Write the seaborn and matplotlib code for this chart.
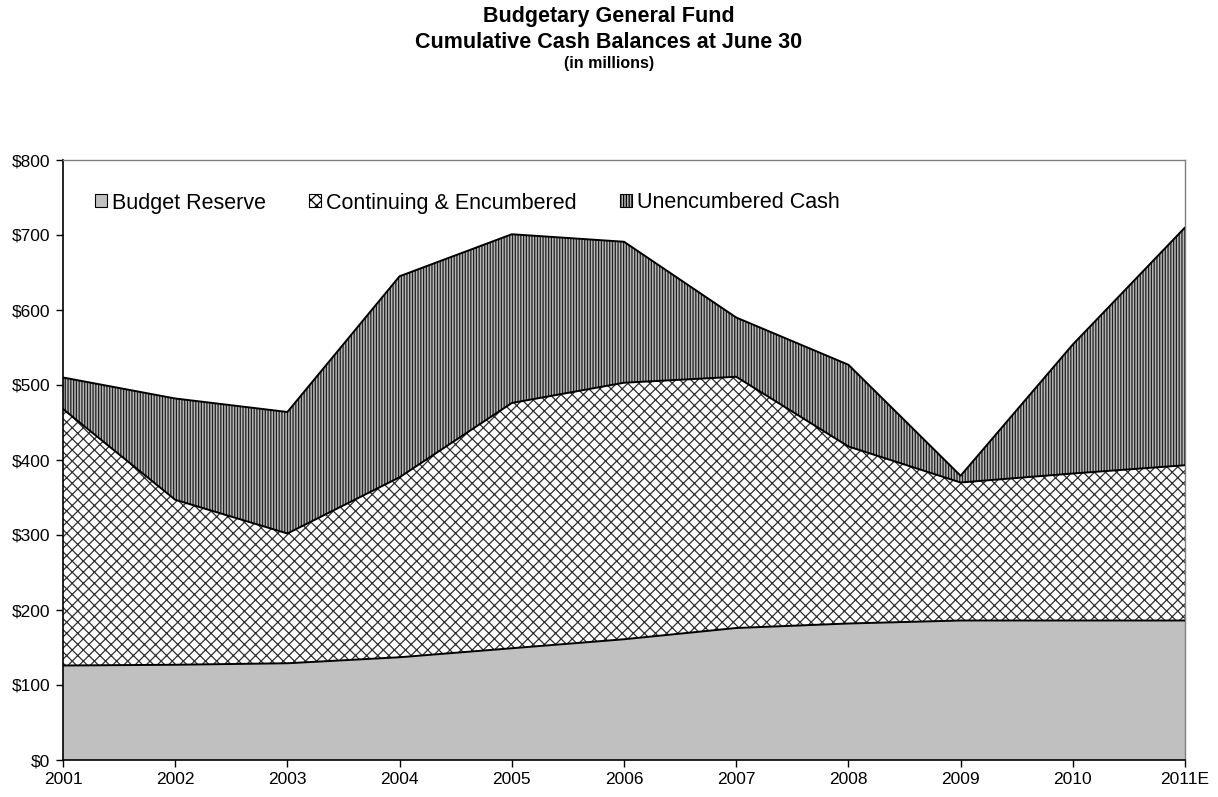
import matplotlib
matplotlib.use("Agg")
import matplotlib.pyplot as plt
import seaborn as sns
import pandas as pd
import numpy as np

years = ["2001", "2002", "2003", "2004", "2005", "2006", "2007", "2008", "2009", "2010", "2011E"]
budget_reserve = [126, 127, 129, 137, 149, 161, 176, 182, 186, 186, 186]
continuing_encumbered = [342, 220, 173, 240, 327, 342, 335, 236, 184, 196, 207]
unencumbered_cash = [42, 135, 162, 268, 225, 188, 79, 109, 9, 172, 317]
y_ticks = [0, 100, 200, 300, 400, 500, 600, 700, 800]

sns.set_style("white")
plt.rcParams['font.family'] = ['Liberation Sans', 'DejaVu Sans']
plt.rcParams['text.color'] = 'black'
plt.rcParams['xtick.color'] = 'black'
plt.rcParams['ytick.color'] = 'black'
plt.rcParams['hatch.linewidth'] = 0.9

df = pd.DataFrame({
    "year": years,
    "x": np.arange(len(years)),
    "reserve": budget_reserve,
    "continuing": continuing_encumbered,
    "unenc": unencumbered_cash,
})
df["lvl1"] = df["reserve"]
df["lvl2"] = df["lvl1"] + df["continuing"]
df["lvl3"] = df["lvl2"] + df["unenc"]

fig = plt.figure(figsize=(12.18, 7.97), dpi=100)
ax = fig.add_axes([63/1218, 37/797, 1122/1218, 600/797])

ax.fill_between(df["x"], 0, df["lvl1"], facecolor="#c0c0c0", edgecolor="none",
                label="Budget Reserve", zorder=1)
plt.rcParams['hatch.color'] = '#303030'
ax.fill_between(df["x"], df["lvl1"], df["lvl2"], facecolor="white", edgecolor="#303030",
                hatch="xxx", linewidth=0, label="Continuing & Encumbered", zorder=1)
ax.fill_between(df["x"], df["lvl2"], df["lvl3"], facecolor="#b8b8b8", edgecolor="#202020",
                hatch="||||||", linewidth=0, label="Unencumbered Cash", zorder=1)

for col in ["lvl1", "lvl2", "lvl3"]:
    sns.lineplot(data=df, x="x", y=col, ax=ax, color="black", linewidth=1.4, zorder=3,
                 legend=False)

ax.set_xlim(0, len(years) - 1)
ax.set_ylim(0, 800)
ax.set_xticks(df["x"])
ax.set_xticklabels(years)
ax.set_yticks(y_ticks)
ax.set_yticklabels([f"${v}" for v in y_ticks])
ax.set_xlabel("")
ax.set_ylabel("")
ax.tick_params(axis="both", labelsize=12.5, length=5, width=1, color="black", direction="out",
               bottom=True, left=True, pad=4)

for side in ["left", "bottom"]:
    ax.spines[side].set_color("black")
    ax.spines[side].set_linewidth(1.2)
for side in ["top", "right"]:
    ax.spines[side].set_color("#808080")
    ax.spines[side].set_linewidth(1.0)
    ax.spines[side].set_visible(True)

leg = ax.legend(loc="center left", bbox_to_anchor=(32/1122, (760-203)/600), ncol=3, frameon=False,
                fontsize=15.5, handlelength=0.55, handleheight=0.55, handletextpad=0.25,
                columnspacing=2.0, borderpad=0, borderaxespad=0)
for h in leg.legend_handles:
    h.set_linewidth(0.8)
    h.set_edgecolor("black")

fig.text(0.5, 1 - 22/797, "Budgetary General Fund", ha="center", va="baseline",
         fontsize=15.5, fontweight="bold")
fig.text(0.5, 1 - 48/797, "Cumulative Cash Balances at June 30", ha="center", va="baseline",
         fontsize=15.5, fontweight="bold")
fig.text(0.5, 1 - 68/797, "(in millions)", ha="center", va="baseline",
         fontsize=11.5, fontweight="bold")

fig.savefig("out.png", dpi=100, facecolor="white")
